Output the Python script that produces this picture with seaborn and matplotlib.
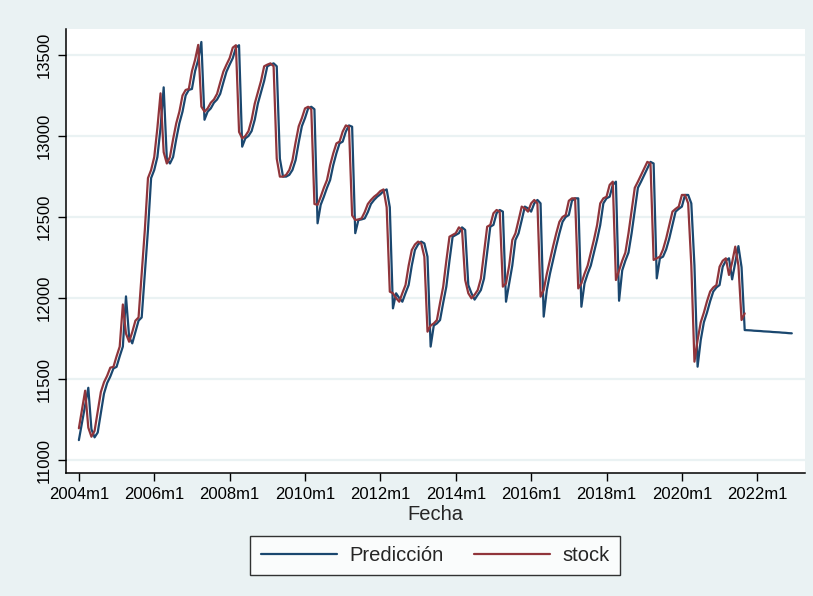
import numpy as np
import pandas as pd
import matplotlib
matplotlib.use("Agg")
import matplotlib.pyplot as plt
import seaborn as sns

# ---- data (monthly, starting 2004m1) ----
stock = [
    11196, 11310, 11428, 11200, 11144, 11180, 11300, 11420, 11480, 11520, 11570, 11575,  # 2004
    11640, 11700, 11960, 11780, 11730, 11790, 11860, 11880, 12150, 12420, 12740, 12790,  # 2005
    12870, 13050, 13263, 12900, 12830, 12870, 12980, 13078, 13150, 13250, 13284, 13290,  # 2006
    13400, 13470, 13562, 13181, 13150, 13170, 13205, 13225, 13260, 13330, 13397, 13440,  # 2007
    13480, 13545, 13560, 13025, 12985, 13000, 13030, 13100, 13200, 13270, 13340, 13430,  # 2008
    13440, 13448, 13430, 12860, 12749, 12749, 12760, 12790, 12850, 12960, 13060, 13110,  # 2009
    13170, 13180, 13165, 12580, 12575, 12625, 12680, 12728, 12820, 12893, 12954, 12965,  # 2010
    13027, 13065, 13057, 12510, 12481, 12485, 12491, 12530, 12580, 12605, 12625, 12640,  # 2011
    12660, 12670, 12560, 12039, 12029, 12000, 11977, 12030, 12080, 12200, 12296, 12330,  # 2012
    12348, 12337, 12255, 11792, 11830, 11843, 11864, 11970, 12070, 12230, 12378, 12389,  # 2013
    12400, 12436, 12420, 12111, 12029, 11998, 12020, 12049, 12120, 12280, 12440, 12451,  # 2014
    12523, 12543, 12533, 12070, 12090, 12200, 12358, 12399, 12480, 12564, 12553, 12533,  # 2015
    12584, 12605, 12584, 12008, 12049, 12150, 12235, 12320, 12399, 12470, 12500, 12512,  # 2016
    12600, 12615, 12615, 12059, 12090, 12150, 12200, 12280, 12360, 12450, 12584, 12615,  # 2017
    12625, 12698, 12718, 12111, 12170, 12230, 12280, 12400, 12540, 12680, 12718, 12759,  # 2018
    12800, 12840, 12830, 12235, 12245, 12255, 12300, 12368, 12450, 12533, 12550, 12564,  # 2019
    12636, 12636, 12584, 12200, 11607, 11740, 11850, 11910, 11980, 12040, 12065, 12080,  # 2020
    12193, 12230, 12245, 12142, 12220, 12317, 12200, 11864, 11905,                       # 2021
]

prediccion = [
    11123, 11230, 11340, 11446, 11190, 11140, 11170, 11290, 11410, 11475, 11515, 11565,  # 2004
    11575, 11640, 11700, 12010, 11760, 11720, 11790, 11860, 11880, 12150, 12420, 12740,  # 2005
    12790, 12870, 13050, 13300, 12860, 12830, 12870, 12980, 13078, 13150, 13250, 13284,  # 2006
    13290, 13400, 13470, 13580, 13100, 13150, 13170, 13205, 13225, 13260, 13330, 13397,  # 2007
    13440, 13480, 13545, 13560, 12934, 12985, 13000, 13030, 13100, 13200, 13270, 13340,  # 2008
    13430, 13440, 13448, 13430, 12860, 12749, 12749, 12760, 12790, 12850, 12960, 13060,  # 2009
    13110, 13170, 13180, 13165, 12461, 12575, 12625, 12680, 12728, 12820, 12893, 12954,  # 2010
    12965, 13027, 13065, 13057, 12400, 12481, 12485, 12491, 12530, 12580, 12605, 12625,  # 2011
    12640, 12660, 12670, 12560, 11936, 12029, 12000, 11977, 12030, 12080, 12200, 12296,  # 2012
    12330, 12348, 12337, 12255, 11700, 11830, 11843, 11864, 11970, 12070, 12230, 12378,  # 2013
    12389, 12400, 12436, 12420, 12080, 12029, 11990, 12020, 12049, 12120, 12280, 12440,  # 2014
    12451, 12523, 12543, 12533, 11977, 12090, 12200, 12358, 12399, 12480, 12564, 12553,  # 2015
    12533, 12584, 12605, 12584, 11885, 12049, 12150, 12235, 12320, 12399, 12470, 12500,  # 2016
    12512, 12600, 12615, 12615, 11946, 12090, 12150, 12200, 12280, 12360, 12450, 12584,  # 2017
    12615, 12625, 12698, 12718, 11983, 12170, 12230, 12280, 12400, 12540, 12680, 12718,  # 2018
    12759, 12800, 12840, 12830, 12121, 12245, 12255, 12300, 12368, 12450, 12533, 12550,  # 2019
    12564, 12636, 12636, 12584, 12200, 11576, 11740, 11850, 11910, 11980, 12040, 12065,  # 2020
    12080, 12193, 12230, 12245, 12115, 12220, 12320, 12190, 11802, 11801, 11800, 11798,  # 2021
    11797, 11796, 11794, 11793, 11792, 11790, 11789, 11788, 11786, 11785, 11783, 11782,  # 2022
]

start_year = 2004
tick_years = [2004, 2006, 2008, 2010, 2012, 2014, 2016, 2018, 2020, 2022]
tick_labels = [f"{y}m1" for y in tick_years]
y_ticks = [11000, 11500, 12000, 12500, 13000, 13500]

series_names = ["Predicción", "stock"]
colors = {"Predicción": "#1A476F", "stock": "#90353B"}

df = pd.concat([
    pd.DataFrame({"t": np.arange(len(prediccion)), "valor": prediccion, "serie": "Predicción"}),
    pd.DataFrame({"t": np.arange(len(stock)), "valor": stock, "serie": "stock"}),
], ignore_index=True)

# ---- style ----
sns.set_style("white")
plt.rcParams["font.family"] = ["Liberation Sans", "DejaVu Sans"]

bg = "#EAF2F3"
fig = plt.figure(figsize=(8.13, 5.96), dpi=100, facecolor=bg)
W, H = 813, 596
ax = fig.add_axes([66 / W, 1 - 473 / H, (805 - 66) / W, (473 - 29) / H])
ax.set_facecolor("white")

sns.lineplot(data=df, x="t", y="valor", hue="serie", hue_order=series_names,
             palette=colors, linewidth=1.6, ax=ax, estimator=None, legend=False)

ax.set_xlim(-4.1, 231.2)
ax.set_ylim(10920, 13660)

ax.set_xticks([(y - start_year) * 12 for y in tick_years])
ax.set_xticklabels(tick_labels, fontsize=12)
ax.set_yticks(y_ticks)
ax.set_yticklabels([str(v) for v in y_ticks], fontsize=12, rotation=90, va="center")

ax.grid(axis="y", color=bg, linewidth=1.6)
ax.grid(axis="x", visible=False)
ax.set_axisbelow(True)

for s in ["top", "right"]:
    ax.spines[s].set_visible(False)
for s in ["left", "bottom"]:
    ax.spines[s].set_color("black")
    ax.spines[s].set_linewidth(1.1)
ax.tick_params(axis="both", direction="out", length=6, width=1.0, color="black",
               labelcolor="black", pad=4, left=True, bottom=True)

ax.set_xlabel("Fecha", fontsize=14.5, labelpad=2)
ax.set_ylabel("")

handles = [plt.Line2D([], [], color=colors[n], linewidth=1.6) for n in series_names]
leg = fig.legend(handles, series_names, loc="center", bbox_to_anchor=(435 / W, 1 - 555.5 / H),
                 ncol=2, fontsize=14.5, frameon=True, fancybox=False, edgecolor="black",
                 facecolor="white", handlelength=3.8, handletextpad=0.6, columnspacing=1.5,
                 borderpad=0.5, borderaxespad=0)
leg.get_frame().set_linewidth(1.0)

fig.savefig("out.png", dpi=100, facecolor=bg)
